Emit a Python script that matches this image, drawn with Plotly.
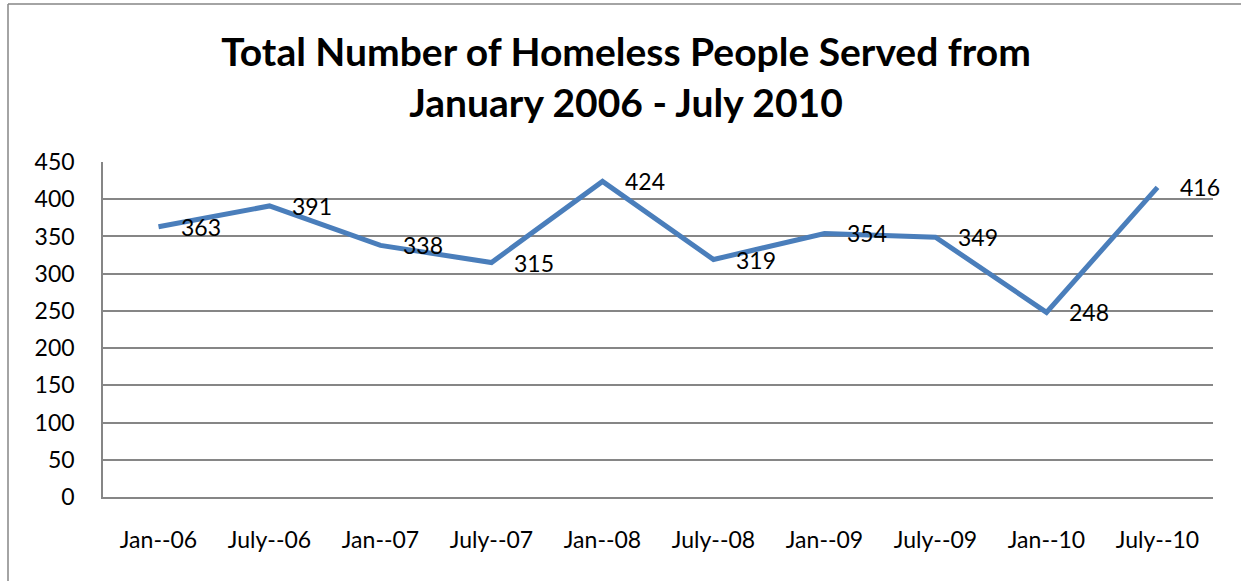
import plotly.graph_objects as go

categories = ["Jan--06", "July--06", "Jan--07", "July--07", "Jan--08",
              "July--08", "Jan--09", "July--09", "Jan--10", "July--10"]
served = [363, 391, 338, 315, 424, 319, 354, 349, 248, 416]
y_ticks = [0, 50, 100, 150, 200, 250, 300, 350, 400, 450]

FONT = "Lato, 'Open Sans', sans-serif"
W, H = 1241, 581
L, R, T, B = 103, 28, 162, 84

fig = go.Figure()
fig.add_trace(go.Scatter(
    x=list(range(len(categories))), y=served, mode="lines",
    line=dict(color="#4A7EBB", width=5), hoverinfo="skip", showlegend=False,
))

for i, v in enumerate(served):
    fig.add_annotation(x=i, y=v, text=str(v), showarrow=False,
                       xanchor="left", yanchor="middle", xshift=20,
                       font=dict(family=FONT, size=23, color="#000000"))

pw, ph = W - L - R, H - T - B
bx0 = (8 - L) / pw
bx1 = (W - L) / pw
by0 = 1 - (H - T) / ph
by1 = 1 + (T - 4) / ph
border = dict(color="#868686", width=1.5)
fig.add_shape(type="line", xref="paper", yref="paper",
              x0=bx0, x1=bx0, y0=by0, y1=by1, line=border, layer="below")
fig.add_shape(type="line", xref="paper", yref="paper",
              x0=bx0, x1=bx1, y0=by1, y1=by1, line=border, layer="below")

fig.update_layout(
    width=W, height=H,
    margin=dict(l=L, r=R, t=T, b=B),
    paper_bgcolor="white", plot_bgcolor="white",
    title=dict(text="<b>Total Number of Homeless People Served from<br>January 2006 - July 2010</b>",
               x=626 / W, xanchor="center", y=1 - 66 / H, yanchor="middle",
               font=dict(family=FONT, size=39, color="#000000")),
    xaxis=dict(tickmode="array", tickvals=list(range(len(categories))), ticktext=categories,
               range=[-0.5, len(categories) - 0.5], showgrid=False, zeroline=False,
               showline=True, linecolor="#868686", linewidth=1.5,
               ticks="", ticklabelstandoff=22,
               tickfont=dict(family=FONT, size=23, color="#000000")),
    yaxis=dict(range=[0, 450], tickmode="array", tickvals=y_ticks,
               showgrid=True, gridcolor="#868686", gridwidth=1.5,
               zeroline=False, showline=True, linecolor="#868686", linewidth=1.5,
               ticks="", ticklabelstandoff=22,
               tickfont=dict(family=FONT, size=23, color="#000000")),
)

fig.write_html("out.html", config={"displayModeBar": False},
               post_script="document.body.style.margin='0';document.body.style.overflow='hidden';")
